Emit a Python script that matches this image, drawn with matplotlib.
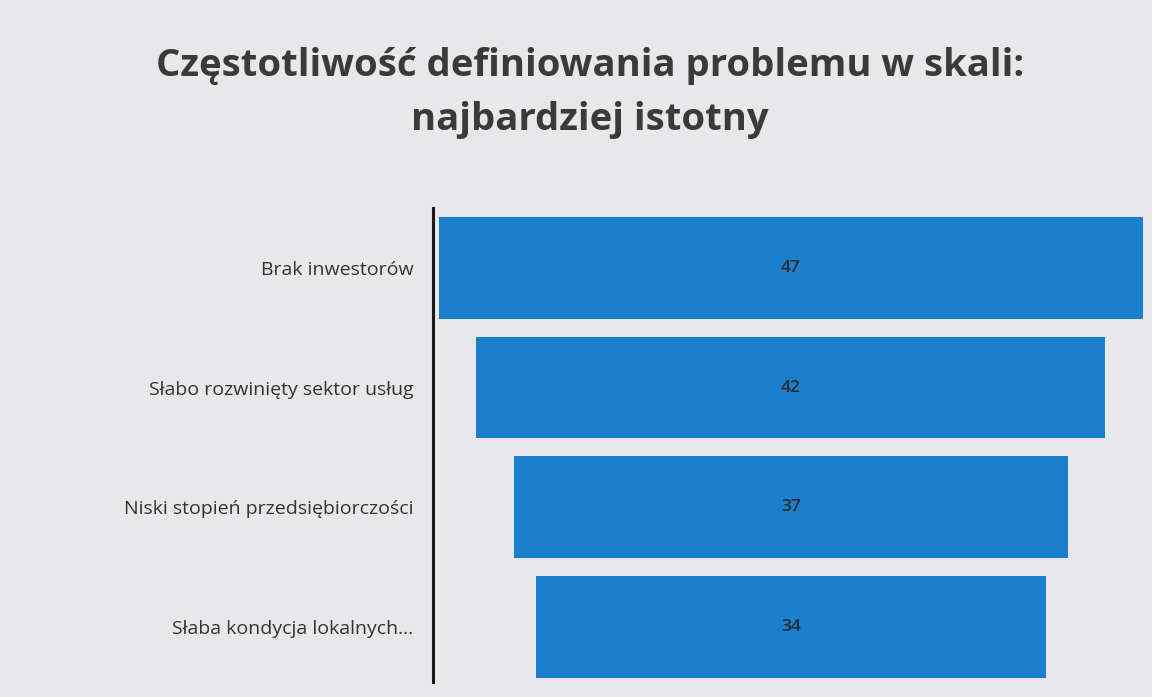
import matplotlib.pyplot as plt
import numpy as np

categories = ["Brak inwestorów", "Słabo rozwinięty sektor usług",
              "Niski stopień przedsiębiorczości", "Słaba kondycja lokalnych..."]
values = [47, 42, 37, 34]
title = "Częstotliwość definiowania problemu w skali:\nnajbardziej istotny"

bg = "#e8e8ea"
bar_color = "#1a7fcc"

fig = plt.figure(figsize=(11.52, 6.97), dpi=100)
fig.patch.set_facecolor(bg)
ax = fig.add_axes([0.3759, 0.0215, 0.624, 0.680])
ax.set_facecolor(bg)

pos = np.arange(len(categories))
vals = np.array(values)
# funnel: bars centred on zero
ax.barh(pos, vals, left=-vals / 2, height=0.85, color=bar_color)
for p, v in zip(pos, vals):
    ax.text(0, p, str(v), ha="center", va="center", fontsize=12.5,
            fontweight="semibold", color="#2a2a2a", family="Open Sans")

ax.set_xlim(-23.9, 24.1)
ax.set_ylim(3.46, -0.5)
ax.set_yticks(pos)
ax.set_yticklabels(categories, fontsize=14, color="#333333", family="Open Sans")
ax.tick_params(axis="y", length=0, pad=14)
ax.set_xticks([])
for s in ["top", "right", "bottom"]:
    ax.spines[s].set_visible(False)
ax.spines["left"].set_linewidth(2.2)
ax.spines["left"].set_color("#1a1a1a")

fig.text(0.512, 0.867, title, ha="center", va="center", fontsize=27.5,
         fontweight="bold", color="#3a3a3a", family="Open Sans", linespacing=1.55)

fig.savefig("out.png", dpi=100, facecolor=bg)
